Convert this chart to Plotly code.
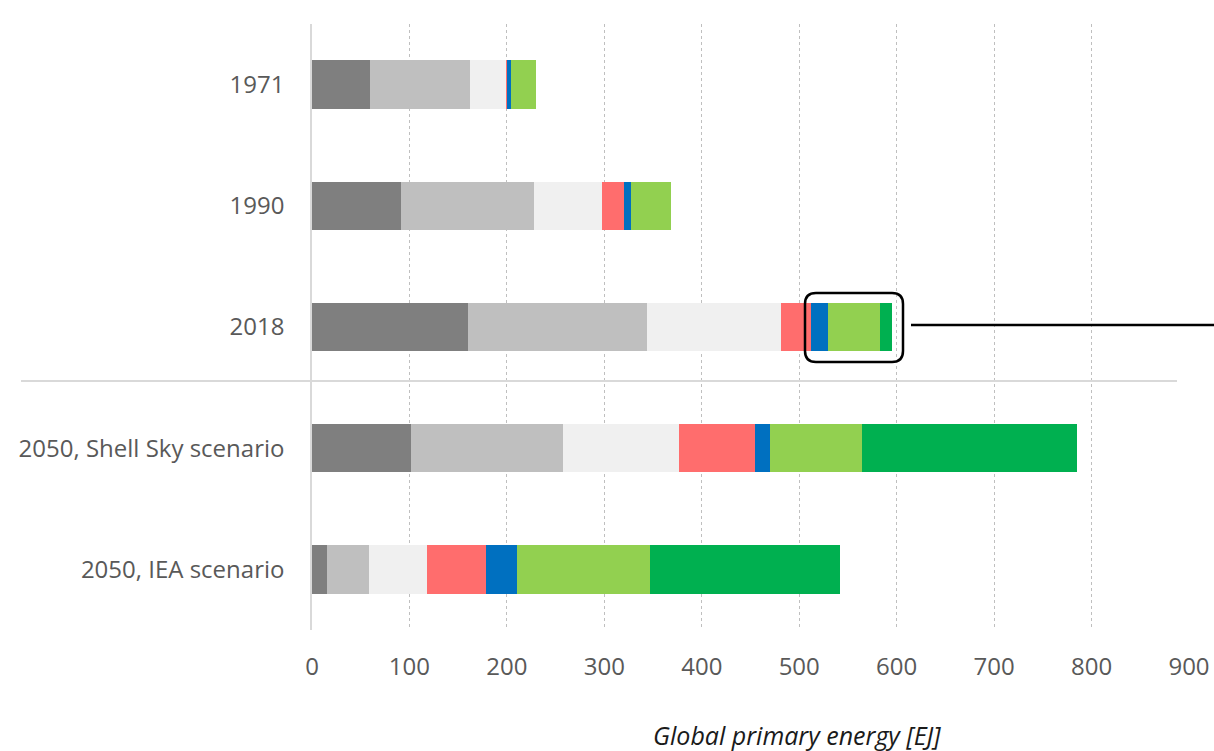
import plotly.graph_objects as go

# Global primary energy by source [EJ]
scenarios = ["1971", "1990", "2018", "2050, Shell Sky scenario", "2050, IEA scenario"]
coal = [59.5, 91.3, 159.8, 101.5, 15.5]
oil = [102.5, 136.7, 184.2, 156.5, 42.8]
gas = [37.5, 70.1, 137.6, 118.6, 60.0]
nuclear = [1.0, 22.2, 30.4, 78.4, 59.9]
hydro = [3.5, 6.9, 17.4, 15.0, 32.2]
biomass = [25.5, 41.0, 53.5, 94.8, 136.0]
solar_wind = [0.0, 0.0, 12.1, 220.2, 195.2]
x_ticks = [0, 100, 200, 300, 400, 500, 600, 700, 800, 900]

series = [
    ("Coal", coal, "#7f7f7f"),
    ("Oil", oil, "#bfbfbf"),
    ("Natural gas", gas, "#f0f0f0"),
    ("Nuclear", nuclear, "#ff6d6d"),
    ("Hydro", hydro, "#0070c0"),
    ("Biomass", biomass, "#92d050"),
    ("Solar & wind", solar_wind, "#00b050"),
]

FONT = "Open Sans"
fig = go.Figure()
for name, vals, color in series:
    fig.add_trace(go.Bar(
        y=scenarios, x=vals, name=name, orientation="h",
        marker=dict(color=color, line=dict(width=0)),
        width=0.4,
    ))

W, H = 1214, 751
ML, MR, MT, MB = 312, 25, 24, 121
pw, ph = W - ML - MR, H - MT - MB


def px(xp):
    return (xp - ML) / pw


def py(yp):
    return (H - MB - yp) / ph


shapes = []
# separator between historical and scenario rows
shapes.append(dict(type="line", xref="paper", yref="paper",
                   x0=px(21), x1=px(1177), y0=py(381), y1=py(381),
                   line=dict(color="#d9d9d9", width=2)))

# rounded highlight box around the 2018 renewables
x0, x1, y0, y1 = px(805), px(903), py(362), py(293)
rx, ry = 11 / pw, 11 / ph
path = (f"M {x0+rx},{y1} L {x1-rx},{y1} Q {x1},{y1} {x1},{y1-ry} "
        f"L {x1},{y0+ry} Q {x1},{y0} {x1-rx},{y0} "
        f"L {x0+rx},{y0} Q {x0},{y0} {x0},{y0+ry} "
        f"L {x0},{y1-ry} Q {x0},{y1} {x0+rx},{y1} Z")
shapes.append(dict(type="path", xref="paper", yref="paper", path=path,
                   line=dict(color="black", width=2.5)))
# connector line leading right from the box
shapes.append(dict(type="line", xref="paper", yref="paper",
                   x0=px(911), x1=px(1220), y0=py(325), y1=py(325),
                   line=dict(color="black", width=2.5)))

fig.update_layout(
    width=W, height=H,
    margin=dict(l=ML, r=MR, t=MT, b=MB),
    barmode="stack", bargap=0.6,
    showlegend=False,
    plot_bgcolor="white", paper_bgcolor="white",
    font=dict(family=FONT, size=24, color="#595959"),
    shapes=shapes,
    annotations=[dict(
        text="<i>Global primary energy [EJ]</i>", xref="paper", yref="paper",
        x=px(797), y=py(735), xanchor="center", yanchor="middle",
        showarrow=False, font=dict(family=FONT, size=25, color="#1a1a1a"),
    )],
)
fig.update_xaxes(
    range=[0, 900], tickvals=x_ticks, ticks="",
    showgrid=True, gridcolor="#bfbfbf", gridwidth=1, griddash="dot",
    zeroline=False, showline=False, automargin=False,
    tickfont=dict(family=FONT, size=24, color="#595959"),
    ticklabelstandoff=20,
)
fig.update_yaxes(
    autorange="reversed", ticks="", showgrid=False,
    showline=True, linecolor="#d9d9d9", linewidth=1.5, automargin=False,
    tickfont=dict(family=FONT, size=24, color="#595959"),
    ticklabelstandoff=21,
)

fig.write_html("out.html")
